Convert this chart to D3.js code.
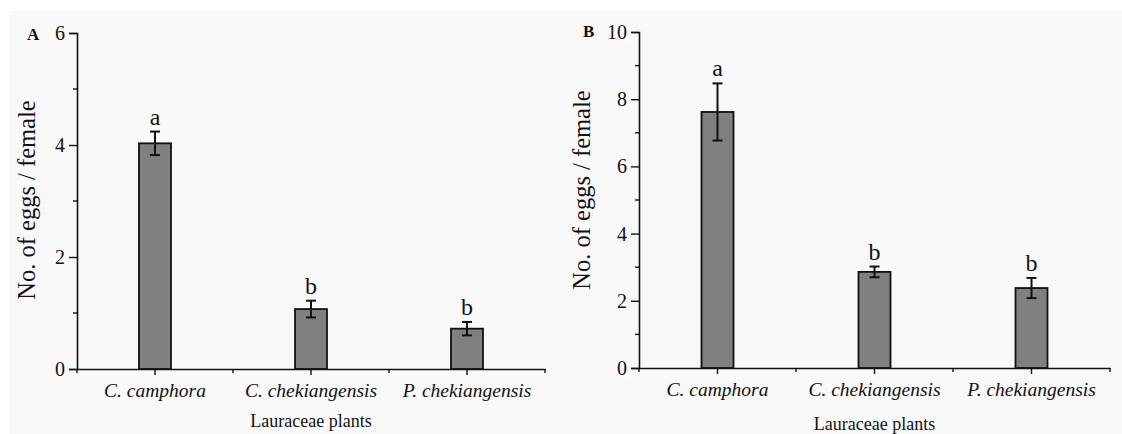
<!DOCTYPE html>
<html>
<head>
<meta charset="utf-8">
<script src="https://cdn.jsdelivr.net/npm/d3@7"></script>
<style>
  body { margin: 0; background: #fff; }
  svg { display: block; font-family: "Liberation Serif", "Times New Roman", serif; }
</style>
</head>
<body>
<div id="chart"></div>
<script>
// plants on the x axis
var categories = ["C. camphora", "C. chekiangensis", "P. chekiangensis"];

// panel A
var meansA = [4.03, 1.07, 0.72];
var errA = [0.21, 0.15, 0.12];
var lettersA = ["a", "b", "b"];
var ticksA = [0, 2, 4, 6];
var minorA = [1, 3, 5];

// panel B
var meansB = [7.62, 2.86, 2.38];
var errB = [0.85, 0.16, 0.30];
var lettersB = ["a", "b", "b"];
var ticksB = [0, 2, 4, 6, 8, 10];
var minorB = [1, 3, 5, 7, 9];

var W = 1122, H = 434;

var svg = d3.select("#chart")
  .append("svg")
  .attr("width", W)
  .attr("height", H);

// light grey page behind the figure
svg.append("rect")
  .attr("x", 9)
  .attr("y", 11)
  .attr("width", W - 9)
  .attr("height", H - 11)
  .attr("fill", "#f9f9f9");

function drawPanel(opt) {
  var g = svg.append("g");

  var x = d3.scaleBand()
    .domain(categories)
    .range([opt.x0, opt.x1])
    .padding(0);

  var y = d3.scaleLinear()
    .domain([0, opt.ymax])
    .range([opt.yBottom, opt.yTop]);

  // y axis
  var yAxis = d3.axisLeft(y)
    .tickValues(opt.ticks)
    .tickSize(8)
    .tickPadding(4)
    .tickFormat(d3.format("d"));

  var ya = g.append("g")
    .attr("transform", "translate(" + opt.x0 + ",0)")
    .call(yAxis)
    .attr("font-family", null);
  ya.select(".domain").attr("stroke", "#111").attr("stroke-width", 1.6);
  ya.selectAll(".tick line").attr("stroke", "#111").attr("stroke-width", 1.4);
  ya.selectAll(".tick text")
    .attr("font-size", 20)
    .attr("fill", "#111");

  // minor y ticks
  g.selectAll(".yminor")
    .data(opt.minor)
    .enter()
    .append("line")
    .attr("x1", opt.x0 - 4)
    .attr("x2", opt.x0)
    .attr("y1", function(d) { return y(d); })
    .attr("y2", function(d) { return y(d); })
    .attr("stroke", "#111")
    .attr("stroke-width", 1.4);

  // x axis
  var xAxis = d3.axisBottom(x)
    .tickSize(6)
    .tickPadding(8)
    .tickSizeOuter(0);

  var xa = g.append("g")
    .attr("transform", "translate(0," + opt.yBottom + ")")
    .call(xAxis)
    .attr("font-family", null);
  xa.select(".domain").attr("stroke", "#111").attr("stroke-width", 1.6);
  xa.selectAll(".tick line").attr("stroke", "#111").attr("stroke-width", 1.4);
  xa.selectAll(".tick text")
    .attr("font-size", 19.5)
    .attr("font-style", "italic")
    .attr("fill", "#111");

  // minor x ticks on band edges
  var edges = categories.map(function(c) { return x(c); }).concat([opt.x1]);
  g.selectAll(".xminor")
    .data(edges)
    .enter()
    .append("line")
    .attr("x1", function(d) { return d; })
    .attr("x2", function(d) { return d; })
    .attr("y1", opt.yBottom)
    .attr("y2", opt.yBottom + 4)
    .attr("stroke", "#111")
    .attr("stroke-width", 1.4);

  var bw = 32;
  var data = categories.map(function(c, i) {
    return { cat: c, mean: opt.means[i], err: opt.err[i], letter: opt.letters[i] };
  });

  // bars
  g.selectAll(".bar")
    .data(data)
    .enter()
    .append("rect")
    .attr("x", function(d) { return x(d.cat) + x.bandwidth() / 2 - bw / 2; })
    .attr("y", function(d) { return y(d.mean); })
    .attr("width", bw)
    .attr("height", function(d) { return opt.yBottom - y(d.mean); })
    .attr("fill", "#808080")
    .attr("stroke", "#111")
    .attr("stroke-width", 1.8);

  // error bars
  var eb = g.selectAll(".err")
    .data(data)
    .enter()
    .append("g")
    .attr("transform", function(d) { return "translate(" + (x(d.cat) + x.bandwidth() / 2) + ",0)"; });

  eb.append("line")
    .attr("x1", 0).attr("x2", 0)
    .attr("y1", function(d) { return y(d.mean + d.err); })
    .attr("y2", function(d) { return y(d.mean - d.err); })
    .attr("stroke", "#111")
    .attr("stroke-width", 2);
  eb.selectAll(".cap")
    .data(function(d) { return [d.mean + d.err, d.mean - d.err]; })
    .enter()
    .append("line")
    .attr("x1", -5).attr("x2", 5)
    .attr("y1", function(v) { return y(v); })
    .attr("y2", function(v) { return y(v); })
    .attr("stroke", "#111")
    .attr("stroke-width", 2);

  // significance letters
  g.selectAll(".letter")
    .data(data)
    .enter()
    .append("text")
    .attr("x", function(d) { return x(d.cat) + x.bandwidth() / 2; })
    .attr("y", function(d) { return y(d.mean + d.err) - 7; })
    .attr("text-anchor", "middle")
    .attr("font-size", 24)
    .attr("fill", "#111")
    .text(function(d) { return d.letter; });

  // y title
  g.append("text")
    .attr("transform", "translate(" + opt.yTitleX + "," + opt.yTitleY + ") rotate(-90)")
    .attr("text-anchor", "middle")
    .attr("font-size", 24.5)
    .attr("fill", "#111")
    .text("No. of eggs / female");

  // x title
  g.append("text")
    .attr("x", (opt.x0 + opt.x1) / 2)
    .attr("y", opt.xTitleY)
    .attr("text-anchor", "middle")
    .attr("font-size", 18)
    .attr("fill", "#111")
    .text("Lauraceae plants");

  // panel letter
  g.append("text")
    .attr("x", opt.labelX)
    .attr("y", opt.labelY)
    .attr("font-size", 17)
    .attr("font-weight", "bold")
    .attr("fill", "#111")
    .text(opt.label);
}

drawPanel({
  x0: 77, x1: 545, yTop: 33, yBottom: 369, ymax: 6,
  means: meansA, err: errA, letters: lettersA, ticks: ticksA, minor: minorA,
  yTitleX: 35, yTitleY: 200, xTitleY: 427,
  label: "A", labelX: 27, labelY: 40
});

drawPanel({
  x0: 639, x1: 1110, yTop: 32, yBottom: 368, ymax: 10,
  means: meansB, err: errB, letters: lettersB, ticks: ticksB, minor: minorB,
  yTitleX: 590, yTitleY: 190, xTitleY: 430,
  label: "B", labelX: 583, labelY: 37
});
</script>
</body>
</html>
